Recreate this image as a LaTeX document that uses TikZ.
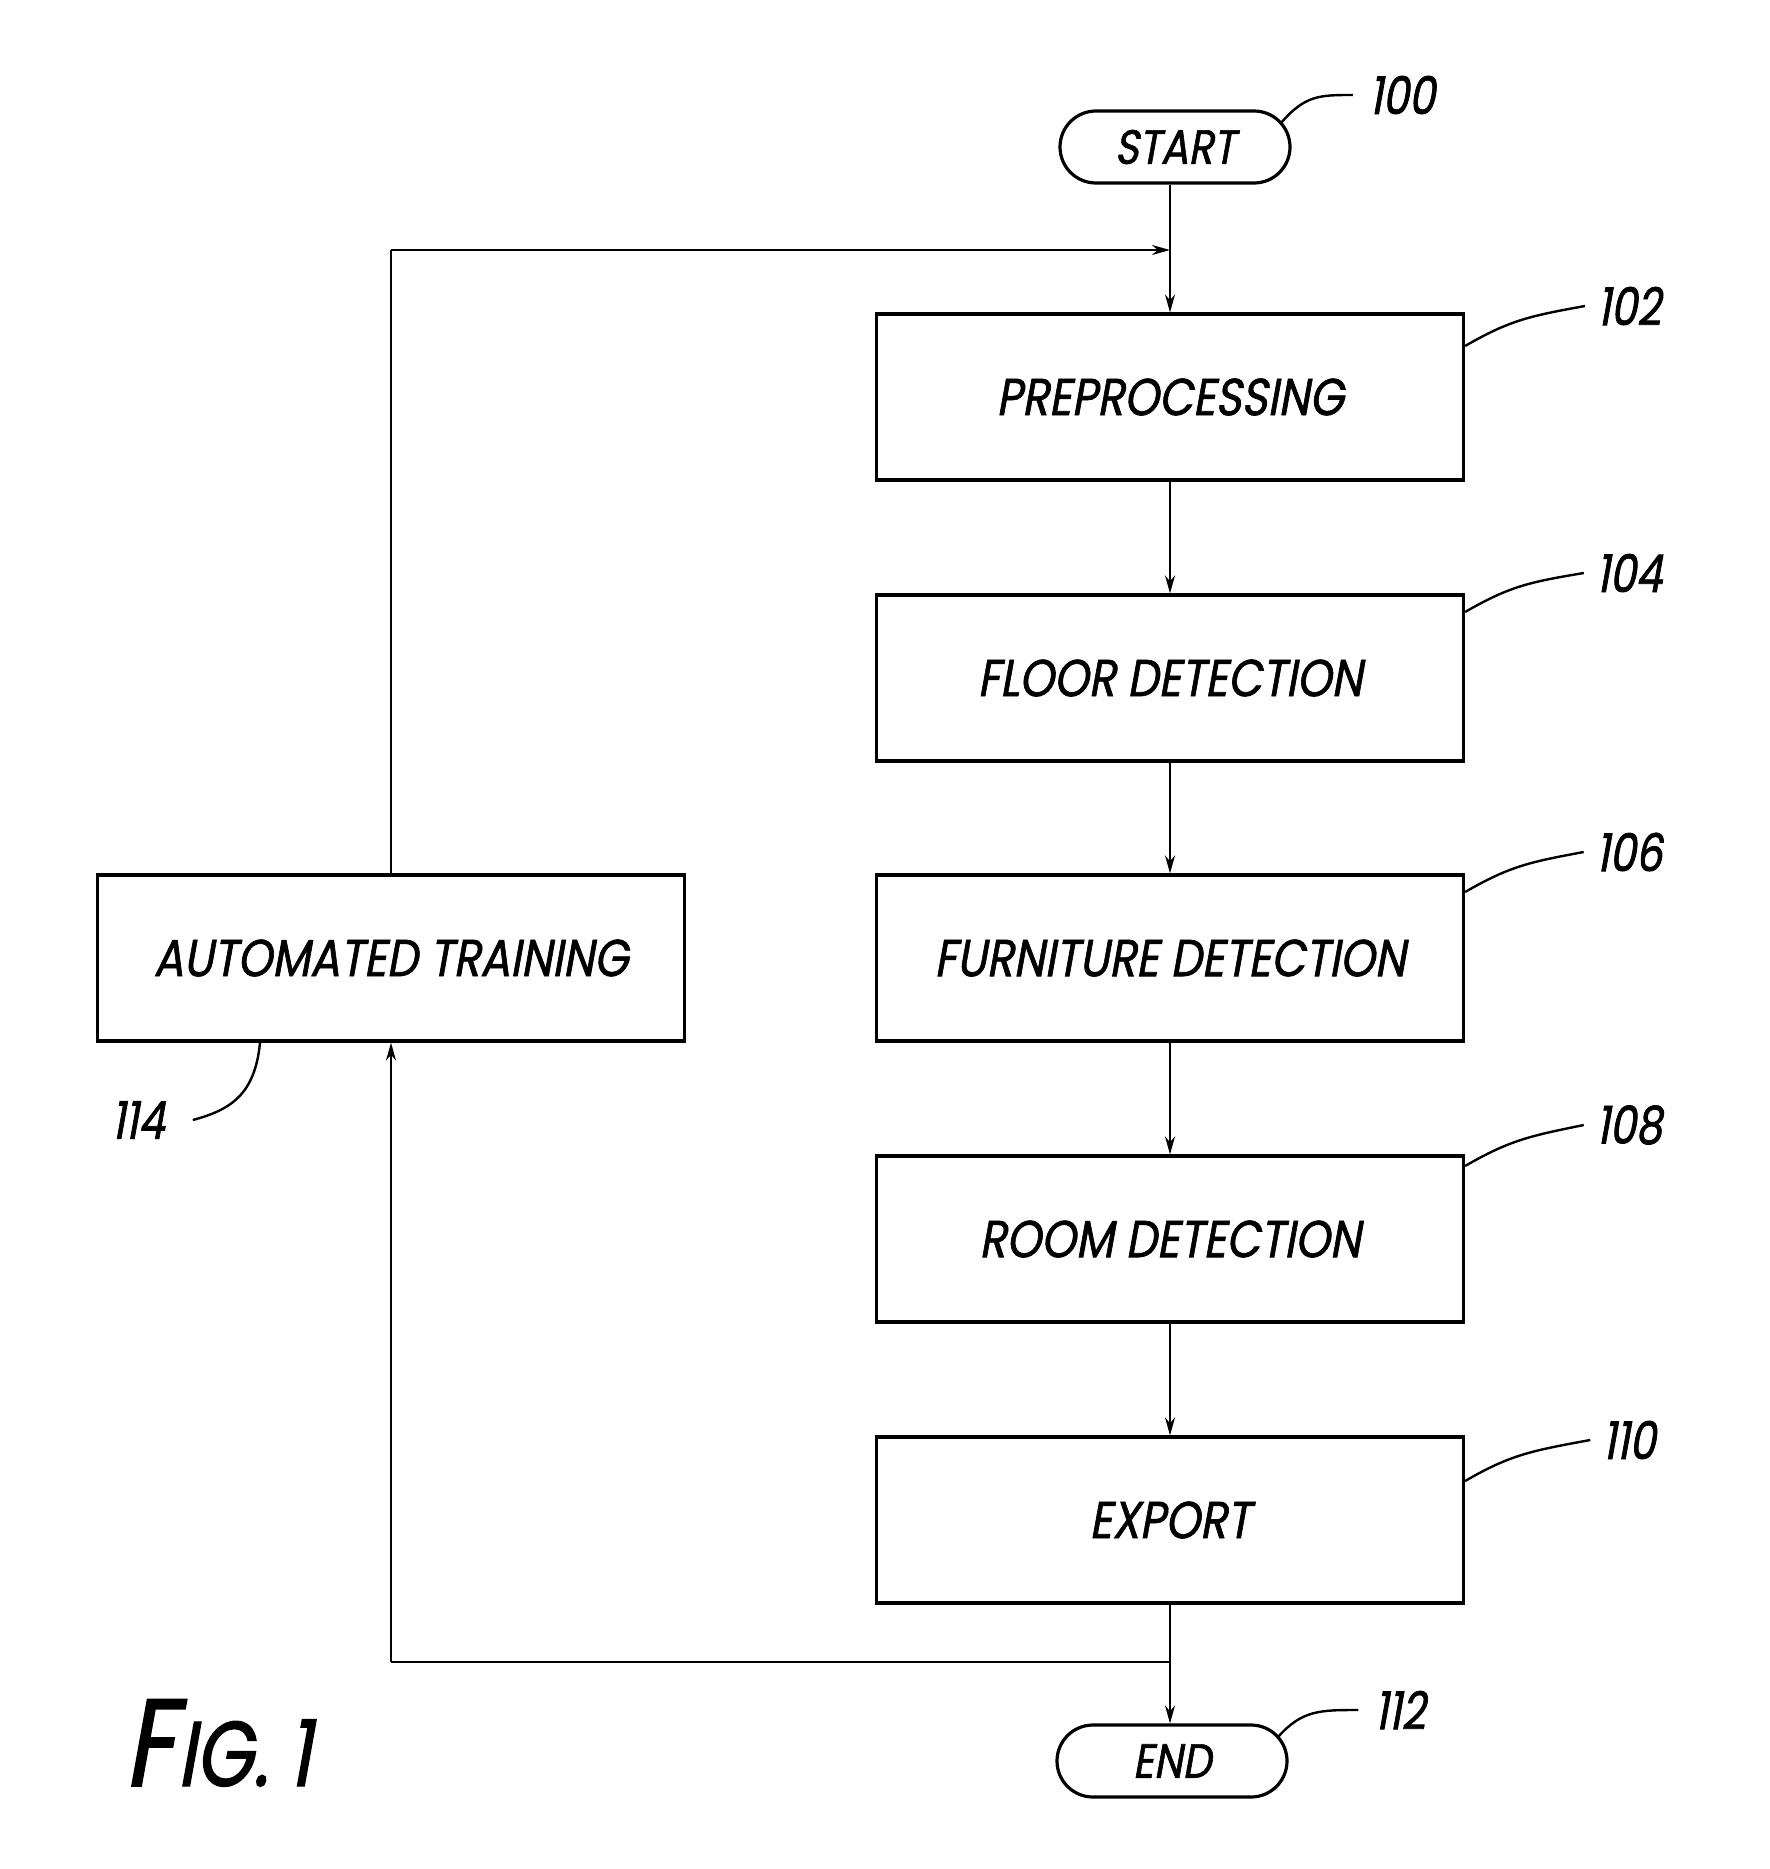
\documentclass[tikz,border=0pt]{standalone}
\usepackage{fontspec}
\newfontfamily\pf{Poppins}[FakeSlant=0.18, FakeStretch=0.85, FakeBold=1.2]
\newfontfamily\pfn{Poppins}[FakeSlant=0.18, FakeStretch=0.8, FakeBold=1.4]
\usetikzlibrary{arrows.meta}
\tikzset{
  stepbox/.style={draw, line width=1.6pt, minimum width=293.5pt, minimum height=83pt, font=\pf\fontsize{26}{28}\selectfont, inner sep=0pt},
  term/.style={draw, line width=1.6pt, rounded corners=18pt, minimum width=115pt, minimum height=36pt, font=\pf\fontsize{24}{28}\selectfont, inner sep=0pt},
  conn/.style={line width=1pt, -{Stealth[length=9pt,width=5pt]}},
  plain/.style={line width=1pt},
  lead/.style={line width=1.2pt},
  num/.style={font=\pfn\fontsize{26}{28}\selectfont, inner sep=0pt}
}
\begin{document}
\begin{tikzpicture}[x=0.5pt,y=-0.5pt]
\useasboundingbox[fill=white] (0,0) rectangle (1770,1869);
\node[term] (start) at (1175,147) {START};
\node[stepbox] (p102) at (1170,397) {PREPROCESSING};
\node[stepbox] (p104) at (1170,678) {FLOOR DETECTION};
\node[stepbox] (p106) at (1170,958) {FURNITURE DETECTION};
\node[stepbox] (p108) at (1170,1239) {ROOM DETECTION};
\node[stepbox] (p110) at (1170,1520) {EXPORT};
\node[term] (end) at (1172,1761) {END};
\node[stepbox] (p114) at (391,958) {AUTOMATED TRAINING};

\coordinate (join) at (p102.north |- 0,250);
\coordinate (tl) at (p114.north |- 0,250);
\coordinate (split) at (p110.south |- 0,1662);
\coordinate (bl) at (p114.south |- 0,1662);

\draw[conn] (start.south -| p102.north) -- (p102.north);
\draw[conn] (p102) -- (p104);
\draw[conn] (p104) -- (p106);
\draw[conn] (p106) -- (p108);
\draw[conn] (p108) -- (p110);
\draw[conn] (p110.south) -- (end.north -| p110.south);
\draw[plain] (split) -- (bl);
\draw[conn] (bl) -- (p114.south);
\draw[plain] (p114.north) -- (tl);
\draw[conn] (tl) -- (join);

% reference numerals
\node[num] (n100) at (1402,95) {100};
\node[num] (n102) at (1629,306) {102};
\node[num] (n104) at (1629,573) {104};
\node[num] (n106) at (1629,852) {106};
\node[num] (n108) at (1629,1125) {108};
\node[num] (n110) at (1629,1440) {110};
\node[num] (n112) at (1400,1710) {112};
\node[num] (n114) at (138,1120) {114};

\draw[lead] (1281,123) .. controls (1305,95) and (1320,95) .. ([xshift=-8]n100.west);
\draw[lead] (p102.east |- 0,346) .. controls (1510,320) and (1530,316) .. ([xshift=-6]n102.west);
\draw[lead] (p104.east |- 0,612) .. controls (1510,586) and (1530,582) .. ([xshift=-6]n104.west);
\draw[lead] (p106.east |- 0,892) .. controls (1510,866) and (1530,862) .. ([xshift=-6]n106.west);
\draw[lead] (p108.east |- 0,1166) .. controls (1510,1140) and (1530,1136) .. ([xshift=-6]n108.west);
\draw[lead] (p110.east |- 0,1481) .. controls (1510,1455) and (1530,1451) .. ([xshift=-6]n110.west);
\draw[lead] (1278,1737) .. controls (1302,1710) and (1320,1710) .. ([xshift=-8]n112.west);
\draw[lead] (p114.south -| 260,0) .. controls (255,1095) and (230,1110) .. ([xshift=14]n114.east);

\node[font=\pfn\fontsize{62}{62}\selectfont, anchor=base west, inner sep=0pt] (figF) at (124,1786) {F};
\node[font=\pfn\fontsize{46}{46}\selectfont, anchor=base west, inner sep=0pt] (figR) at ([xshift=1]figF.base east) {IG. 1};
\end{tikzpicture}
\end{document}
